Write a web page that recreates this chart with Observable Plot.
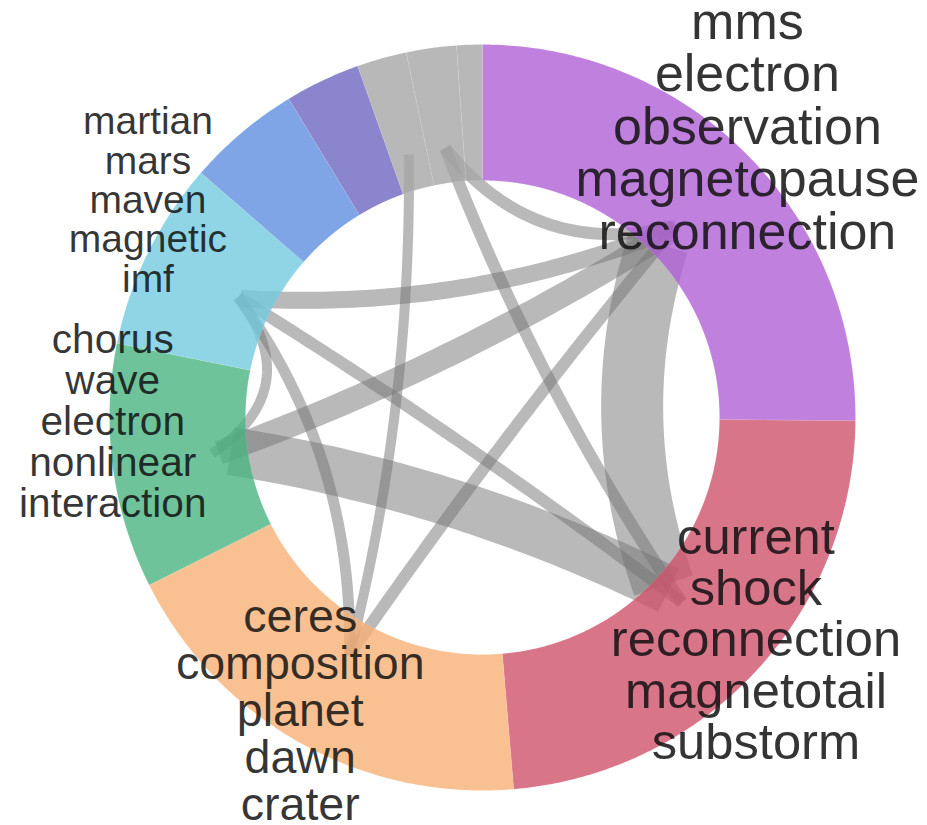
<!DOCTYPE html>
<html><head><meta charset="utf-8">
<script src="https://cdn.jsdelivr.net/npm/d3@7"></script>
<script src="https://cdn.jsdelivr.net/npm/@observablehq/plot@0.6"></script>
<style>body{margin:0;background:#fff} #chart svg{display:block}</style>
</head><body><div id="chart"></div>
<script>
// ---- data ----
const topicWords = [
  ["mms", "electron", "observation", "magnetopause", "reconnection"],
  ["current", "shock", "reconnection", "magnetotail", "substorm"],
  ["ceres", "composition", "planet", "dawn", "crater"],
  ["chorus", "wave", "electron", "nonlinear", "interaction"],
  ["martian", "mars", "maven", "magnetic", "imf"],
  [], [], [], [], []
];
const topicShare = [90.5, 84.7, 68.1, 38.2, 29.5, 17.7, 11.75, 7.75, 7.8, 4.0];
const linkSource = [0, 3, 3, 4, 4, 4, 4, 2, 7, 8, 8];
const linkTarget = [1, 1, 0, 0, 1, 2, 3, 0, 2, 1, 0];
const linkWeight = [31, 24, 12, 8.5, 6, 5.5, 5, 6, 5, 6, 6];

// ---- styles / layout ----
const topicColors = ["#b060d6", "#d0526c", "#f8b077", "#4ab482", "#73cae0", "#608fe1", "#6e66c0", "#a6a6a6", "#a6a6a6", "#a6a6a6"];
const labelLift = [28, 31, 32, 45, 52];
const W = 927, H = 825, CX = 482, CY = 417;
const R_OUT = 373, R_IN = 237, BEND = 0.32;

const total = d3.sum(topicShare);
let acc = 0;
const segs = topicShare.map((v, i) => {
  const a0 = acc / total * 360; acc += v; const a1 = acc / total * 360;
  return {i, a0, a1, mid: (a0 + a1) / 2};
});
const polar = (r, deg) => { const a = deg * Math.PI / 180; return [r * Math.sin(a), r * Math.cos(a)]; };

const ringPts = [];
segs.forEach(s => {
  const n = Math.max(2, Math.ceil((s.a1 - s.a0) / 0.5));
  const pts = [];
  for (let k = 0; k <= n; k++) pts.push(polar(R_OUT, s.a0 + (s.a1 - s.a0) * k / n));
  for (let k = n; k >= 0; k--) pts.push(polar(R_IN, s.a0 + (s.a1 - s.a0) * k / n));
  pts.push(pts[0]);
  pts.forEach(([x, y]) => ringPts.push({seg: s.i, x, y, c: topicColors[s.i]}));
});

const widthOf = v => v * 2;
const chordPts = [];
linkSource.forEach((s, j) => {
  const t = linkTarget[j], w = widthOf(linkWeight[j]);
  const re = 278 - w / 2;
  const p1 = polar(re, segs[s].mid), p2 = polar(re, segs[t].mid);
  const mx = (p1[0] + p2[0]) / 2, my = (p1[1] + p2[1]) / 2;
  const c = [mx * (1 - BEND), my * (1 - BEND)];
  const N = 60;
  for (let k = 0; k <= N; k++) {
    const u = k / N, a = (1 - u) * (1 - u), b = 2 * u * (1 - u), d = u * u;
    chordPts.push({id: j, w, x: a * p1[0] + b * c[0] + d * p2[0], y: a * p1[1] + b * c[1] + d * p2[1]});
  }
});

const fontOf = d3.scaleLinear().domain([30, 68, 90]).range([39, 46.6, 52]).clamp(true);
const textRows = [];
topicWords.forEach((words, i) => {
  if (!words.length) return;
  const fs = fontOf(topicShare[i]);
  const lh = fs * 1.01;
  const [ax, ay0] = polar(R_OUT, segs[i].mid);
  const ay = ay0 + labelLift[i];
  const n = words.length;
  words.forEach((wd, k) => textRows.push({x: ax, y: ay + ((n - 1) / 2 - k) * lh, text: wd, fs}));
});

const chart = Plot.plot({
  width: W, height: H, margin: 0,
  x: {domain: [-CX, W - CX], axis: null},
  y: {domain: [CY - H, CY], axis: null},
  color: {type: "identity"},
  marks: [
    Plot.line(chordPts, {x: "x", y: "y", z: "id", stroke: "#737373", strokeOpacity: 0.5, strokeWidth: "w", strokeLinecap: "butt", strokeLinejoin: "round"}),
    Plot.line(ringPts, {x: "x", y: "y", z: "seg", fill: "c", fillOpacity: 0.8, stroke: "white", strokeOpacity: 0.2, strokeWidth: 0.5}),
    Plot.text(textRows, {x: "x", y: "y", text: "text", fontSize: "fs", fill: "#111", fillOpacity: 0.85, textAnchor: "middle", fontFamily: "'Liberation Sans', Arial, Helvetica, sans-serif"})
  ]
});
document.getElementById("chart").appendChild(chart);
</script>
</body></html>
